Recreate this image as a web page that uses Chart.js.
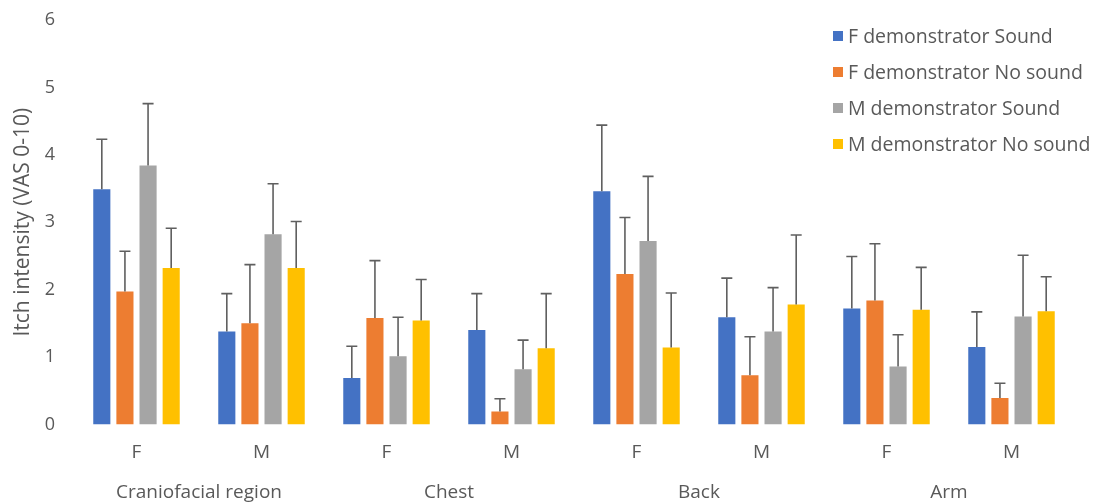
<!DOCTYPE html>
<html>
<head>
<meta charset="utf-8">
<script src="https://cdn.jsdelivr.net/npm/chart.js@4.4.1/dist/chart.umd.min.js"></script>
<style>
  html, body { margin: 0; padding: 0; background: #ffffff; }
  #wrap { position: relative; width: 1097px; height: 504px; }
  #legend { position: absolute; left: 833px; top: 24px; font-family: "Open Sans", sans-serif; font-size: 19.5px; color: #595959; }
  #legend div { height: 36px; line-height: 24px; white-space: nowrap; }
  #legend span.sw { display: inline-block; width: 10px; height: 10px; margin-right: 5px; vertical-align: 2px; }
</style>
</head>
<body>
<div id="wrap">
  <canvas id="c" width="1097" height="504"></canvas>
  <div id="legend"></div>
</div>
<script>
const categories = ["F", "M", "F", "M", "F", "M", "F", "M"];
const groups = ["Craniofacial region", "Chest", "Back", "Arm"];
const yTicks = [0, 1, 2, 3, 4, 5, 6];

const seriesNames = ["F demonstrator Sound", "F demonstrator No sound", "M demonstrator Sound", "M demonstrator No sound"];
const seriesColors = ["#4472C4", "#ED7D31", "#A5A5A5", "#FFC000"];

const fSound     = [3.49, 1.38, 0.69, 1.40, 3.46, 1.59, 1.72, 1.15];
const fNoSound   = [1.97, 1.50, 1.58, 0.19, 2.23, 0.73, 1.84, 0.39];
const mSound     = [3.84, 2.82, 1.01, 0.82, 2.72, 1.38, 0.86, 1.60];
const mNoSound   = [2.32, 2.32, 1.54, 1.13, 1.14, 1.78, 1.70, 1.68];

const fSoundErr   = [0.74, 0.56, 0.47, 0.54, 0.98, 0.58, 0.77, 0.52];
const fNoSoundErr = [0.60, 0.87, 0.85, 0.19, 0.84, 0.57, 0.84, 0.22];
const mSoundErr   = [0.92, 0.75, 0.58, 0.43, 0.96, 0.65, 0.47, 0.91];
const mNoSoundErr = [0.59, 0.69, 0.61, 0.81, 0.81, 1.03, 0.63, 0.51];

const seriesValues = [fSound, fNoSound, mSound, mNoSound];
const seriesErrors = [fSoundErr, fNoSoundErr, mSoundErr, mNoSoundErr];

const FONT = "'Open Sans', sans-serif";
const TXT = "#595959";

const errorBars = {
  id: "errorBars",
  afterDatasetsDraw(chart) {
    const ctx = chart.ctx;
    const y = chart.scales.y;
    ctx.save();
    ctx.strokeStyle = "#5f5f5f";
    ctx.lineWidth = 1.6;
    chart.data.datasets.forEach((ds, di) => {
      const meta = chart.getDatasetMeta(di);
      meta.data.forEach((bar, i) => {
        const top = y.getPixelForValue(ds.data[i] + ds.err[i]);
        const base = y.getPixelForValue(ds.data[i]);
        ctx.beginPath();
        ctx.moveTo(bar.x, base);
        ctx.lineTo(bar.x, top);
        ctx.moveTo(bar.x - 5.5, top);
        ctx.lineTo(bar.x + 5.5, top);
        ctx.stroke();
      });
    });
    ctx.restore();
  }
};

const datasets = seriesNames.map((name, k) => ({
  label: name,
  data: seriesValues[k],
  err: seriesErrors[k],
  backgroundColor: seriesColors[k],
  borderWidth: 0,
  xAxisID: "x",
  categoryPercentage: 0.74,
  barPercentage: 0.74
}));

new Chart(document.getElementById("c"), {
  type: "bar",
  data: { labels: categories, datasets },
  options: {
    responsive: false,
    animation: false,
    layout: { padding: { top: 0, right: 23, left: 4, bottom: 0 } },
    plugins: { legend: { display: false }, tooltip: { enabled: false } },
    scales: {
      y: {
        min: 0, max: 6,
        afterBuildTicks: (s) => { s.ticks = yTicks.map(v => ({ value: v })); },
        afterFit: (s) => { s.width = 70; s.paddingTop = 20; },
        grid: { display: false, drawTicks: false },
        border: { display: false },
        ticks: { color: TXT, font: { family: FONT, size: 18 }, padding: 19 },
        title: { display: true, text: "Itch intensity (VAS 0-10)", color: TXT, font: { family: FONT, size: 21 }, padding: { top: 6, bottom: 4 } }
      },
      x: {
        grid: { display: false, drawTicks: false },
        border: { display: false },
        ticks: { color: TXT, font: { family: FONT, size: 19 }, padding: 17 }
      },
      x2: {
        type: "category",
        position: "bottom",
        labels: groups,
        offset: true,
        grid: { display: false, drawTicks: false },
        border: { display: false },
        ticks: { color: TXT, font: { family: FONT, size: 19 }, padding: 0 }
      }
    }
  },
  plugins: [errorBars]
});

const lg = document.getElementById("legend");
seriesNames.forEach((n, k) => {
  const d = document.createElement("div");
  const s = document.createElement("span");
  s.className = "sw";
  s.style.background = seriesColors[k];
  d.appendChild(s);
  d.appendChild(document.createTextNode(n));
  lg.appendChild(d);
});
</script>
</body>
</html>
